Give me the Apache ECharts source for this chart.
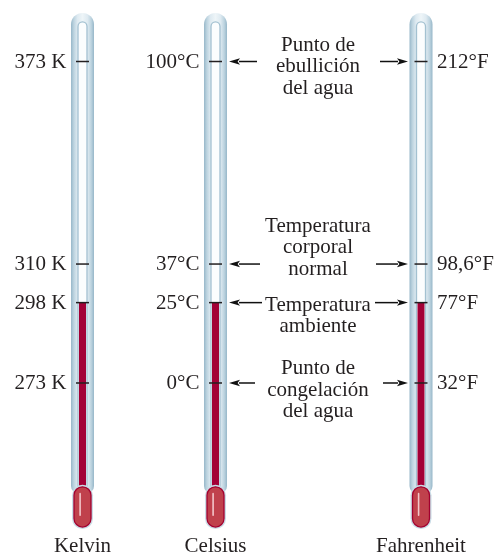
<!DOCTYPE html>
<html><head><meta charset="utf-8">
<script src="https://cdn.jsdelivr.net/npm/echarts@6/dist/echarts.min.js"></script>
<style>html,body{margin:0;padding:0;background:#fff}#c{width:495px;height:554px}</style>
</head><body><div id="c"></div>
<script>
// ---- data ----
const scaleNames = ['Kelvin', 'Celsius', 'Fahrenheit'];
const kelvinTicks = [373, 310, 298, 273];
const celsiusTicks = [100, 37, 25, 0];
const fahrenheitTicks = [212, 98.6, 77, 32];
const kelvinLabels = ['373 K', '310 K', '298 K', '273 K'];
const celsiusLabels = ['100°C', '37°C', '25°C', '0°C'];
const fahrenheitLabels = ['212°F', '98,6°F', '77°F', '32°F'];
const roomReading = [298, 25, 77];
const annotationTexts = [
  'Punto de\nebullición\ndel agua',
  'Temperatura\ncorporal\nnormal',
  'Temperatura\nambiente',
  'Punto de\ncongelación\ndel agua'
];

// ---- layout ----
const L = {
  tubeX: [82.5, 215.5, 421], tubeW: 23, channelW: 9, tickHalf: 6.5, mercW: 7,
  tubeTopC: 115.1, channelTopC: 112.3, tubeBotC: -34.5, bulbTopC: -32.3, bulbBotC: -44.8, bulbW: 17,
  labelGap: 16, nameY: 546,
  font: '"Liberation Serif","Times New Roman",serif', fs: 21, color: '#231f20',
  textX: 318, leftHead: 229, rightHead: 408,
  leftTail: [257, 260, 262, 255], rightTail: [380, 376, 375, 383],
  textDy: [5.4, -16.5, 13.5, 7], lineH: 21.5
};
const cMin = -53.19, cMax = 119.13;
const conv = [c => c + 273, c => c, c => c * 1.8 + 32];
const tickSets = [kelvinTicks, celsiusTicks, fahrenheitTicks];
const labelSets = [kelvinLabels, celsiusLabels, fahrenheitLabels];
const fontStr = L.fs + 'px ' + L.font;

const glassGrad = () => new echarts.graphic.LinearGradient(0, 0, 1, 0, [
  {offset: 0, color: '#97b7c9'}, {offset: 0.12, color: '#bcd3df'}, {offset: 0.28, color: '#deeaf1'},
  {offset: 0.5, color: '#eef5f8'}, {offset: 0.72, color: '#deeaf1'}, {offset: 0.88, color: '#bcd3df'},
  {offset: 1, color: '#97b7c9'}
]);

function renderTube(params, api) {
  const i = params.dataIndex;
  const cx = L.tubeX[i];
  const yTop = api.coord([cx, L.tubeTopC])[1];
  const yBot = api.coord([cx, L.tubeBotC])[1];
  const yCh = api.coord([cx, L.channelTopC])[1];
  const w = L.tubeW, cw = L.channelW;
  return {
    type: 'group',
    children: [
      {type: 'rect', shape: {x: cx - w / 2, y: yTop, width: w, height: yBot - yTop, r: [w / 2, w / 2, 8, 8]},
       style: {fill: glassGrad()}},
      {type: 'rect', shape: {x: cx - cw / 2, y: yCh, width: cw, height: yBot - yCh - 4, r: [cw / 2, cw / 2, 0, 0]},
       style: {fill: '#fbfdfe', stroke: '#a3c1d1', lineWidth: 1.3}},
      {type: 'text', style: {x: cx, y: L.nameY, text: scaleNames[i], font: fontStr, fill: L.color,
        align: 'center', verticalAlign: 'middle'}}
    ]
  };
}

function mercuryRenderer(s) {
  return function (params, api) {
    const cx = L.tubeX[s];
    const top = api.coord([cx, api.value(1)])[1];
    const bTop = api.coord([cx, conv[s](L.bulbTopC)])[1];
    const bBot = api.coord([cx, conv[s](L.bulbBotC)])[1];
    const bw = L.bulbW;
    return {
      type: 'group',
      children: [
        {type: 'rect', shape: {x: cx - L.mercW / 2, y: top, width: L.mercW, height: bTop - top + 4},
         style: {fill: '#a30036'}},
        {type: 'rect', shape: {x: cx - bw / 2 - 2, y: bTop - 2, width: bw + 4, height: bBot - bTop + 4, r: bw / 2 + 2},
         style: {fill: '#c9dce6'}},
        {type: 'rect', shape: {x: cx - bw / 2, y: bTop, width: bw, height: bBot - bTop, r: bw / 2},
         style: {fill: '#c0414c', stroke: '#a3002f', lineWidth: 1.3}},
        {type: 'rect', shape: {x: cx - 3.2, y: bTop + 6, width: 1.6, height: bBot - bTop - 17, r: 0.8},
         style: {fill: '#f2c6ca'}}
      ]
    };
  };
}

function tickRenderer(s) {
  return function (params, api) {
    const cx = L.tubeX[s];
    const y = api.coord([cx, api.value(1)])[1];
    const right = s === 2;
    return {
      type: 'group',
      children: [
        {type: 'line', shape: {x1: cx - L.tickHalf, y1: y, x2: cx + L.tickHalf, y2: y},
         style: {stroke: L.color, lineWidth: 1.5}},
        {type: 'text', style: {x: right ? cx + L.labelGap : cx - L.labelGap, y: y + 0.5,
          text: labelSets[s][params.dataIndex], font: fontStr, fill: L.color,
          align: right ? 'left' : 'right', verticalAlign: 'middle'}}
      ]
    };
  };
}

function arrow(tail, head, y) {
  const d = Math.sign(head - tail), hl = 11, hw = 3.2, notch = 2.4;
  return [
    {type: 'line', shape: {x1: tail, y1: y, x2: head - d * (hl - 1), y2: y}, style: {stroke: '#111', lineWidth: 1.5}},
    {type: 'polygon', shape: {points: [[head, y], [head - d * hl, y - hw], [head - d * (hl - notch), y], [head - d * hl, y + hw]]},
     style: {fill: '#111'}}
  ];
}

function renderAnnot(params, api) {
  const i = params.dataIndex;
  const y = api.coord([L.textX, api.value(1)])[1];
  return {
    type: 'group',
    children: [
      ...arrow(L.leftTail[i], L.leftHead, y),
      ...arrow(L.rightTail[i], L.rightHead, y),
      {type: 'text', style: {x: L.textX, y: y + L.textDy[i], text: annotationTexts[i], font: fontStr,
        fill: L.color, align: 'center', verticalAlign: 'middle', lineHeight: L.lineH}}
    ]
  };
}

// axis order: 0 = Kelvin, 1 = Celsius, 2 = Fahrenheit
const series = [
  {type: 'custom', name: 'tubes', yAxisIndex: 1, z: 1, silent: true,
   data: scaleNames.map((n, i) => [L.tubeX[i], L.tubeTopC]), renderItem: renderTube}
];
for (let s = 0; s < 3; s++) {
  series.push({type: 'custom', name: 'mercury-' + scaleNames[s], yAxisIndex: s, z: 2, silent: true,
    data: [[L.tubeX[s], roomReading[s]]], renderItem: mercuryRenderer(s)});
  series.push({type: 'custom', name: 'ticks-' + scaleNames[s], yAxisIndex: s, z: 3, silent: true,
    data: tickSets[s].map(v => [L.tubeX[s], v]), renderItem: tickRenderer(s)});
}
series.push({type: 'custom', name: 'annotations', yAxisIndex: 1, z: 3, silent: true,
  data: celsiusTicks.map(v => [L.textX, v]), renderItem: renderAnnot});

const chart = echarts.init(document.getElementById('c'), null, {renderer: 'canvas'});
chart.setOption({
  animation: false,
  backgroundColor: '#ffffff',
  grid: {left: 0, right: 0, top: 0, bottom: 0},
  xAxis: {type: 'value', min: 0, max: 495, show: false},
  yAxis: [
    {type: 'value', min: conv[0](cMin), max: conv[0](cMax), show: false},
    {type: 'value', min: cMin, max: cMax, show: false},
    {type: 'value', min: conv[2](cMin), max: conv[2](cMax), show: false}
  ],
  series: series
});
</script></body></html>
